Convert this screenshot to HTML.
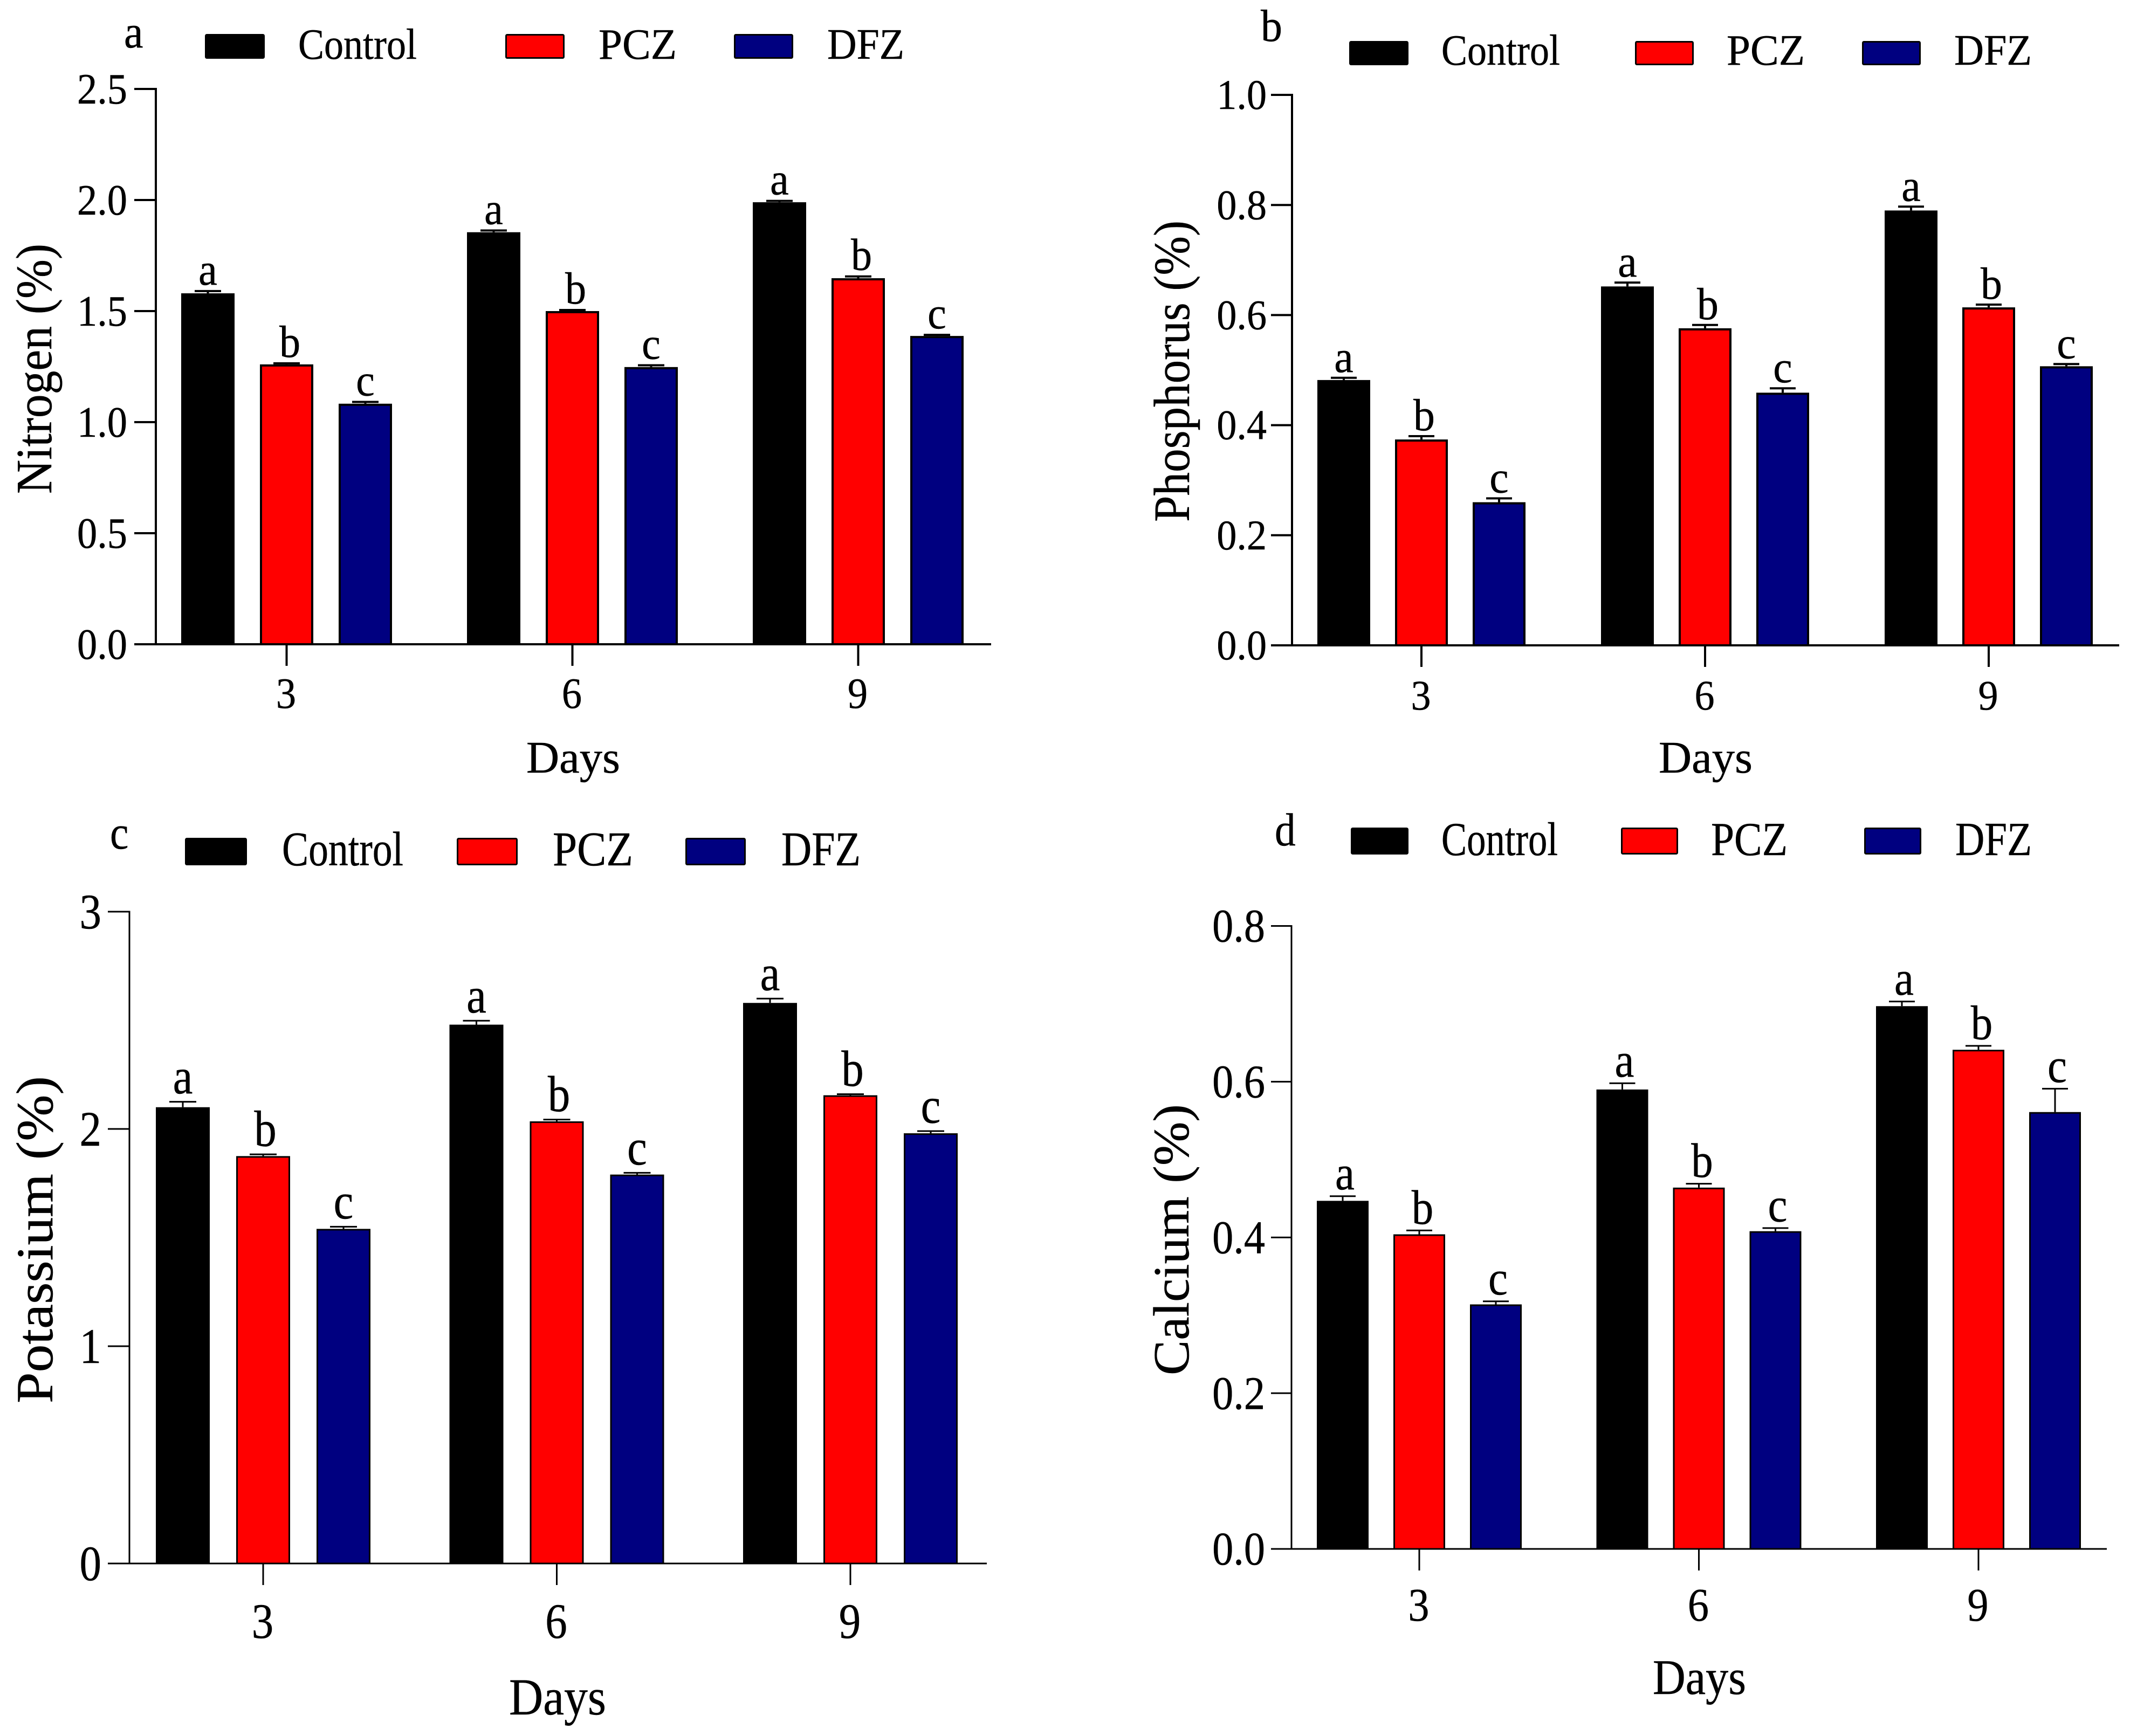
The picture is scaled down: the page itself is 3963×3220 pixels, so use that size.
<!DOCTYPE html>
<html lang="en">
<head>
<meta charset="utf-8">
<title>Nutrient content by treatment and day</title>
<style>
html,body{margin:0;padding:0;background:#fff;}
svg{display:block;}
text{font-family:"Liberation Serif",serif;fill:#000;stroke:#000;stroke-width:0.5px;}
</style>
</head>
<body>
<svg id="figure" xmlns="http://www.w3.org/2000/svg" width="3963" height="3220" viewBox="0 0 3963 3220">
<rect x="0" y="0" width="3963" height="3220" fill="#fff"/>
</svg>
<script>
const categories = ['3', '6', '9'];
const seriesNames = ['Control', 'PCZ', 'DFZ'];
const seriesColors = ['#000000', '#ff0000', '#000080'];
const sigLetters = ['a', 'b', 'c'];

const nitrogenValues = [[1.58, 1.855, 1.99], [1.26, 1.50, 1.648], [1.083, 1.248, 1.388]];
const nitrogenErrors = [[0.01, 0.008, 0.006], [0.005, 0.005, 0.008], [0.008, 0.008, 0.005]];
const nitrogenTicks = ['0.0', '0.5', '1.0', '1.5', '2.0', '2.5'];

const phosphorusValues = [[0.482, 0.652, 0.79], [0.374, 0.576, 0.614], [0.26, 0.459, 0.507]];
const phosphorusErrors = [[0.004, 0.007, 0.007], [0.006, 0.006, 0.005], [0.007, 0.008, 0.004]];
const phosphorusTicks = ['0.0', '0.2', '0.4', '0.6', '0.8', '1.0'];

const potassiumValues = [[2.10, 2.48, 2.58], [1.875, 2.035, 2.155], [1.54, 1.79, 1.98]];
const potassiumErrors = [[0.025, 0.018, 0.02], [0.008, 0.008, 0.005], [0.01, 0.008, 0.01]];
const potassiumTicks = ['0', '1', '2', '3'];

const calciumValues = [[0.447, 0.59, 0.697], [0.404, 0.464, 0.641], [0.314, 0.408, 0.561]];
const calciumErrors = [[0.006, 0.008, 0.006], [0.005, 0.005, 0.005], [0.004, 0.004, 0.03]];
const calciumTicks = ['0.0', '0.2', '0.4', '0.6', '0.8'];

const svg = document.getElementById('figure');
const NS = 'http://www.w3.org/2000/svg';

function shape(parent, tag, attrs, name) {
  const el = document.createElementNS(NS, tag);
  for (const k in attrs) el.setAttribute(k, attrs[k]);
  
  
  parent.appendChild(el);
  return el;
}

function label(parent, str, x, y, size, name, o) {
  const el = document.createElementNS(NS, 'text');
  el.textContent = str;
  el.setAttribute('x', x);
  el.setAttribute('y', y);
  el.setAttribute('font-size', size);
  el.setAttribute('text-anchor', (o && o.anchor) || 'start');
  
  
  if (o && o.rotate) el.setAttribute('transform', 'rotate(-90 ' + x + ' ' + y + ')');
  parent.appendChild(el);
  let len = o && o.len;
  if (!len && o && o.cond) len = el.getComputedTextLength() * o.cond;
  if (len) {
    el.setAttribute('textLength', len);
    el.setAttribute('lengthAdjust', 'spacingAndGlyphs');
  }
  return el;
}

function drawPanel(p) {
  const g = document.createElementNS(NS, 'g');
  
  
  svg.appendChild(g);

  const yScale = v => p.y0 - (v / p.yMax) * (p.y0 - p.yTop);
  const barLeft = (c, s) => p.x0 + c * p.groupStep + s * p.barStep;
  const barCenter = (c, s) => barLeft(c, s) + p.barW / 2;
  const sw = p.stroke;

  label(g, p.letter, p.letterX, p.letterY, p.letterSize, p.id + '-panel-letter', {cond: p.cond});

  // bars, error bars and significance letters
  p.values.forEach((series, s) => {
    series.forEach((v, c) => {
      const top = yScale(v);
      const capY = yScale(v + p.errors[s][c]);
      const cx = barCenter(c, s);
      shape(g, 'line', {x1: cx, x2: cx, y1: top, y2: capY, stroke: '#000', 'stroke-width': sw}, p.id + '-error-stem-' + seriesNames[s] + '-' + categories[c]);
      shape(g, 'line', {x1: cx - p.capW / 2, x2: cx + p.capW / 2, y1: capY, y2: capY, stroke: '#000', 'stroke-width': sw}, p.id + '-error-cap-' + seriesNames[s] + '-' + categories[c]);
      shape(g, 'rect', {x: barLeft(c, s) + sw / 2, y: top + sw / 2, width: p.barW - sw, height: p.y0 - top - sw / 2, fill: seriesColors[s], stroke: '#000', 'stroke-width': sw}, p.id + '-bar-' + seriesNames[s] + '-' + categories[c]);
      label(g, sigLetters[s], cx + p.sigDx + (s === 1 ? p.bShift : 0), capY - sw / 2 - p.sigGap, p.sigSize, p.id + '-sig-letter-' + seriesNames[s] + '-' + categories[c], {anchor: 'middle', cond: p.cond});
    });
  });

  // axes
  shape(g, 'line', {x1: p.axisX, x2: p.axisX, y1: p.yTop - sw / 2, y2: p.y0, stroke: '#000', 'stroke-width': sw}, p.id + '-y-axis');
  shape(g, 'line', {x1: p.axisLeft, x2: p.axisRight, y1: p.y0, y2: p.y0, stroke: '#000', 'stroke-width': sw}, p.id + '-x-axis');

  p.ticks.forEach(t => {
    const y = yScale(parseFloat(t));
    if (parseFloat(t) !== 0) shape(g, 'line', {x1: p.axisLeft, x2: p.axisX, y1: y, y2: y, stroke: '#000', 'stroke-width': sw}, p.id + '-y-tick-' + t);
    label(g, t, p.yLabelRight, y + p.tickSize * 0.335, p.tickSize, p.id + '-y-tick-label-' + t, {anchor: 'end', cond: p.cond});
  });

  categories.forEach((cat, c) => {
    const x = barCenter(c, 1);
    shape(g, 'line', {x1: x, x2: x, y1: p.y0, y2: p.y0 + 40, stroke: '#000', 'stroke-width': sw}, p.id + '-x-tick-' + cat);
    label(g, cat, x - 1, p.xLabelY, p.tickSize, p.id + '-x-tick-label-' + cat, {anchor: 'middle', cond: p.cond});
  });

  label(g, 'Days', p.daysX, p.daysY, p.daysSize, p.id + '-x-axis-title', {len: p.daysLen});
  label(g, p.yTitle, p.titleX, p.titleY, p.titleSize, p.id + '-y-axis-title', {rotate: true, len: p.titleLen});

  // legend
  seriesNames.forEach((n, s) => {
    const lg = p.legend[s];
    shape(g, 'rect', {x: lg[0] + 1.5, y: p.legendTop + 1.5, width: lg[1] - 3, height: p.legendH - 3, fill: seriesColors[s], stroke: '#000', 'stroke-width': 3, rx: 2}, p.id + '-legend-swatch-' + n);
    label(g, n, lg[2], p.legendBase, p.legendSize, p.id + '-legend-label-' + n, {len: lg[3]});
  });
}

drawPanel({
  id: 'nitrogen', letter: 'a', yTitle: 'Nitrogen (%)',
  values: nitrogenValues, errors: nitrogenErrors, ticks: nitrogenTicks, yMax: 2.5,
  x0: 336, groupStep: 530, barStep: 146, barW: 99, capW: 49, stroke: 4,
  y0: 1195, yTop: 165, axisX: 289, axisLeft: 249, axisRight: 1838,
  yLabelRight: 236, xLabelY: 1313, tickSize: 80, cond: 0.93,
  sigSize: 84, sigGap: 10, sigDx: 0, bShift: 6,
  letterX: 230, letterY: 88, letterSize: 86,
  daysX: 976, daysY: 1433, daysSize: 84, daysLen: 174,
  titleX: 95, titleY: 916, titleSize: 94, titleLen: 464,
  legend: [[380, 111, 553, 220], [937, 110, 1110, 145], [1361, 110, 1534, 143]],
  legendTop: 63, legendH: 46, legendBase: 109, legendSize: 80
});

drawPanel({
  id: 'phosphorus', letter: 'b', yTitle: 'Phosphorus (%)',
  values: phosphorusValues, errors: phosphorusErrors, ticks: phosphorusTicks, yMax: 1,
  x0: 2443, groupStep: 526, barStep: 144, barW: 98, capW: 48, stroke: 4,
  y0: 1197, yTop: 176, axisX: 2396, axisLeft: 2357, axisRight: 3930,
  yLabelRight: 2349, xLabelY: 1316, tickSize: 78, cond: 0.95,
  sigSize: 84, sigGap: 9, sigDx: 0, bShift: 5,
  letterX: 2338, letterY: 76, letterSize: 84,
  daysX: 3076, daysY: 1433, daysSize: 84, daysLen: 174,
  titleX: 2205, titleY: 968, titleSize: 94, titleLen: 559,
  legend: [[2502, 110, 2673, 220], [3032, 109, 3202, 145], [3453, 109, 3624, 144]],
  legendTop: 76, legendH: 45, legendBase: 120, legendSize: 80
});

drawPanel({
  id: 'potassium', letter: 'c', yTitle: 'Potassium (%)',
  values: potassiumValues, errors: potassiumErrors, ticks: potassiumTicks, yMax: 3,
  x0: 289, groupStep: 544.5, barStep: 149, barW: 100, capW: 50, stroke: 3,
  y0: 2900, yTop: 1691, axisX: 240, axisLeft: 200, axisRight: 1830,
  yLabelRight: 188, xLabelY: 3038, tickSize: 92, cond: 0.88,
  sigSize: 94, sigGap: 14, sigDx: 0, bShift: 4,
  letterX: 204, letterY: 1574, letterSize: 88,
  daysX: 944, daysY: 3180, daysSize: 96, daysLen: 180,
  titleX: 97, titleY: 2603, titleSize: 96, titleLen: 607,
  legend: [[343, 115, 523, 225], [847, 113, 1025, 149], [1271, 112, 1449, 147]],
  legendTop: 1554, legendH: 51, legendBase: 1605, legendSize: 90
});

drawPanel({
  id: 'calcium', letter: 'd', yTitle: 'Calcium (%)',
  values: calciumValues, errors: calciumErrors, ticks: calciumTicks, yMax: 0.8,
  x0: 2442, groupStep: 518.5, barStep: 142, barW: 96, capW: 48, stroke: 3,
  y0: 2873, yTop: 1717.5, axisX: 2395, axisLeft: 2357, axisRight: 3907,
  yLabelRight: 2346, xLabelY: 3006, tickSize: 87, cond: 0.9,
  sigSize: 90, sigGap: 11, sigDx: 4, bShift: 2,
  letterX: 2364, letterY: 1568, letterSize: 86,
  daysX: 3065, daysY: 3142, daysSize: 92, daysLen: 173,
  titleX: 2204, titleY: 2551, titleSize: 94, titleLen: 503,
  legend: [[2505, 107, 2673, 216], [3006, 106, 3173, 142], [3457, 106, 3626, 142]],
  legendTop: 1535, legendH: 50, legendBase: 1586, legendSize: 88
});
</script>
</body>
</html>
